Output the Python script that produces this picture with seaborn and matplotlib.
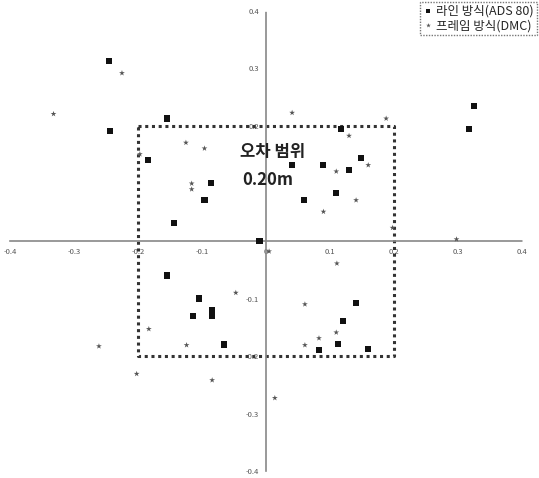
import matplotlib
matplotlib.use("Agg")
import matplotlib.pyplot as plt
import seaborn as sns
import pandas as pd

# 라인 방식 (ADS 80)
ads_x = [-0.245, -0.244, -0.155, -0.185, -0.086, -0.096, -0.144, 0.325, 0.317, 0.118,
         0.041, 0.090, 0.148, 0.130, 0.110, 0.060, -0.154, -0.105, -0.084, -0.084,
         -0.114, -0.065, 0.141, 0.121, 0.112, 0.083, 0.160, -0.010]
ads_y = [0.313, 0.192, 0.213, 0.141, 0.101, 0.071, 0.031, 0.235, 0.194, 0.194,
         0.133, 0.133, 0.144, 0.123, 0.083, 0.072, -0.060, -0.100, -0.120, -0.130,
         -0.130, -0.180, -0.108, -0.139, -0.179, -0.190, -0.188, 0.000]

# 프레임 방식 (DMC)
dmc_x = [-0.225, -0.332, -0.125, -0.096, -0.116, -0.116, -0.197, 0.041, 0.188, 0.130,
         0.160, 0.110, 0.141, 0.090, -0.047, -0.183, -0.261, -0.124, -0.202, -0.084,
         0.111, 0.061, 0.110, 0.083, 0.061, 0.014, 0.198, 0.298, 0.005]
dmc_y = [0.292, 0.221, 0.171, 0.161, 0.100, 0.090, 0.151, 0.223, 0.213, 0.183,
         0.132, 0.121, 0.071, 0.051, -0.090, -0.153, -0.183, -0.181, -0.231, -0.242,
         -0.039, -0.110, -0.159, -0.169, -0.181, -0.273, 0.023, 0.003, -0.018]

series_names = ['라인 방식(ADS 80)', '프레임 방식(DMC)']
x_ticks = [-0.4, -0.3, -0.2, -0.1, 0, 0.1, 0.2, 0.3, 0.4]
x_tick_labels = ['-0.4', '-0.3', '-0.2', '-0.1', '0', '0.1', '0.2', '0.3', '0.4']
y_ticks = [-0.4, -0.3, -0.2, -0.1, 0.2, 0.3, 0.4]
y_tick_labels = ['-0.4', '-0.3', '-0.2', '-0.1', '0.2', '0.3', '0.4']
box_limit = 0.2

df = pd.DataFrame({
    'x': ads_x + dmc_x,
    'y': ads_y + dmc_y,
    'method': [series_names[0]] * len(ads_x) + [series_names[1]] * len(dmc_x),
})

sns.set_style('white')
plt.rcParams['font.family'] = ['Noto Sans CJK KR', 'DejaVu Sans']

fig = plt.figure(figsize=(5.39, 4.78), dpi=100)
ax = fig.add_axes([0.0186, 0.0146, 0.9494, 0.9624])

# error range box
bx = [-box_limit, box_limit, box_limit, -box_limit, -box_limit]
by = [box_limit, box_limit, -box_limit, -box_limit, box_limit]
ax.plot(bx, by, color='#333333', linestyle=(0, (1, 1.2)), linewidth=2.2, zorder=2)

sns.scatterplot(data=df, x='x', y='y', hue='method', style='method',
                markers={series_names[0]: 's', series_names[1]: '*'},
                palette={series_names[0]: '#111111', series_names[1]: '#555555'},
                s=19, linewidth=0, ax=ax, zorder=3)

ax.set_xlim(-0.4, 0.4)
ax.set_ylim(-0.4, 0.4)
ax.set_xlabel('')
ax.set_ylabel('')

for side in ['left', 'bottom']:
    ax.spines[side].set_position('zero')
    ax.spines[side].set_color('#888888')
    ax.spines[side].set_linestyle((0, (1, 1)))
    ax.spines[side].set_linewidth(1.2)
for side in ['right', 'top']:
    ax.spines[side].set_visible(False)

ax.set_xticks(x_ticks)
ax.set_xticklabels(x_tick_labels)
ax.set_yticks(y_ticks)
ax.set_yticklabels(y_tick_labels)
ax.tick_params(axis='both', labelsize=5.5, labelcolor='#555555', length=2,
               color='#888888', pad=3)

ax.text(0.01, 0.155, '오차 범위', ha='center', va='center', fontsize=12, fontweight='bold',
        color='#222222', zorder=4)
ax.text(0.003, 0.106, '0.20m', ha='center', va='center', fontsize=12, fontweight='bold',
        color='#222222', zorder=4)

leg = ax.legend(loc='upper right', bbox_to_anchor=(1.029, 1.02), fontsize=9,
                frameon=True, fancybox=False, handletextpad=0.2, borderpad=0.25,
                labelspacing=0.1, handlelength=0.8, markerscale=0.8,
                borderaxespad=0)
leg.get_frame().set_edgecolor('#555555')
leg.get_frame().set_linestyle((0, (1, 1)))
leg.get_frame().set_linewidth(1.0)

fig.savefig('out.png', dpi=100)
